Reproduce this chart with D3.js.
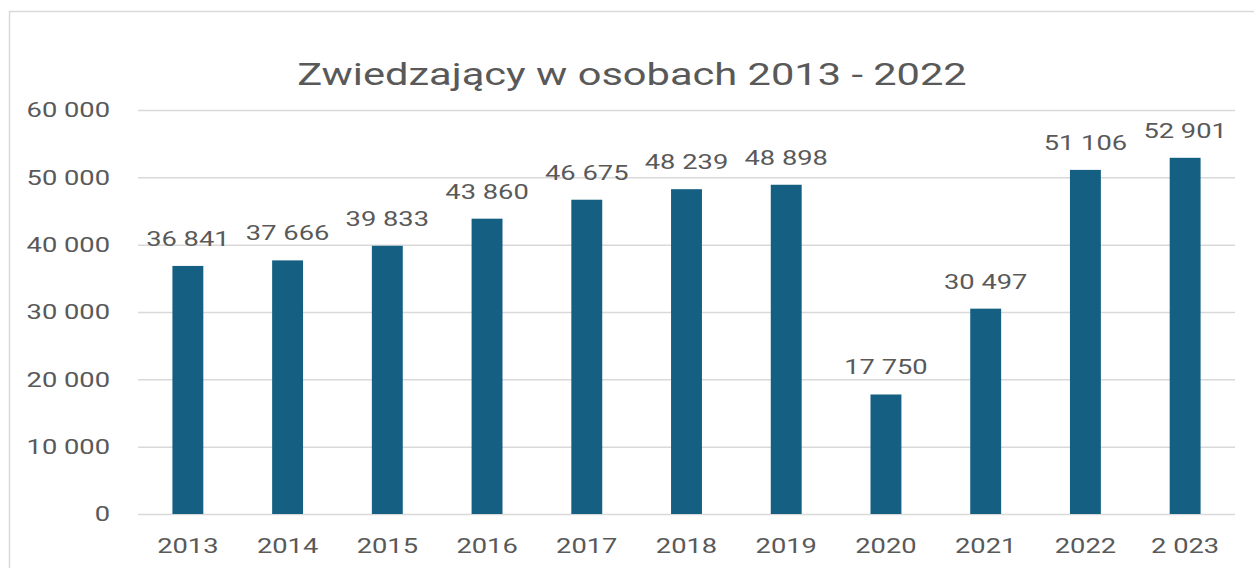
<!DOCTYPE html>
<html>
<head>
<meta charset="utf-8">
<script src="https://cdn.jsdelivr.net/npm/d3@7"></script>
<style>
  body { margin: 0; background: #fff; }
  svg { display: block; }
  text { font-family: Roboto, "Open Sans", sans-serif; fill: #595959; }
  /* the reference text is drawn noticeably wider than Roboto */
  .wide { transform-box: fill-box; transform-origin: center; transform: scaleX(1.3); }
  .wide-r { transform-box: fill-box; transform-origin: right center; transform: scaleX(1.3); }
</style>
</head>
<body>
<div id="chart"></div>
<script>
// Zwiedzający chart

var years = ["2013", "2014", "2015", "2016", "2017", "2018", "2019", "2020", "2021", "2022", "2 023"];
var visitors = [36841, 37666, 39833, 43860, 46675, 48239, 48898, 17750, 30497, 51106, 52901];
var yTicks = [0, 10000, 20000, 30000, 40000, 50000, 60000];
var title = "Zwiedzający w osobach 2013 - 2022";

(function () {
    var W = 1254, H = 568;
    var margin = { top: 110, right: 19, bottom: 54, left: 138 },
        width = W - margin.left - margin.right,
        height = H - margin.top - margin.bottom;

    var fmt = d => d3.format(",")(d).replace(/,/g, " ");

    var root = d3.select("#chart")
        .append("svg")
        .attr("width", W)
        .attr("height", H);

    // chart border
    root.append("rect")
        .attr("x", 9.5)
        .attr("y", 11.5)
        .attr("width", W + 20)
        .attr("height", H + 20)
        .attr("fill", "none")
        .attr("stroke", "#d9d9d9")
        .attr("stroke-width", 1.5);

    root.append("text")
        .attr("class", "wide")
        .attr("x", 632)
        .attr("y", 85)
        .attr("text-anchor", "middle")
        .attr("font-size", "32px")
        .text(title);

    var svg = root.append("g")
        .attr("transform", "translate(" + margin.left + "," + margin.top + ")");

    var x = d3.scaleBand()
        .domain(years)
        .range([0, width])
        .paddingInner(0.69)
        .paddingOuter(0.345);

    var y = d3.scaleLinear()
        .domain([0, 60000])
        .range([height, 0]);

    // gridlines + y labels
    var yAxis = d3.axisLeft(y)
        .tickValues(yTicks)
        .tickSize(-width)
        .tickPadding(28)
        .tickFormat(fmt);

    var gy = svg.append("g").call(yAxis);
    gy.select(".domain").remove();
    gy.selectAll(".tick line")
        .attr("stroke", "#d9d9d9")
        .attr("stroke-width", 1.5);
    gy.selectAll(".tick text")
        .attr("class", "wide-r")
        .attr("font-size", "21px")
        .attr("fill", "#595959");

    // bars
    svg.selectAll("rect.bar")
        .data(visitors)
        .enter()
        .append("rect")
        .attr("class", "bar")
        .attr("x", (d, i) => x(years[i]))
        .attr("y", d => y(d))
        .attr("width", x.bandwidth())
        .attr("height", d => height - y(d))
        .attr("fill", "#156082");

    // value labels
    svg.selectAll("text.lbl")
        .data(visitors)
        .enter()
        .append("text")
        .attr("class", "lbl wide")
        .attr("x", (d, i) => x(years[i]) + x.bandwidth() / 2)
        .attr("y", d => y(d) - 20)
        .attr("text-anchor", "middle")
        .attr("font-size", "21px")
        .text(fmt);

    // x axis labels
    var xAxis = d3.axisBottom(x).tickSize(0).tickPadding(24);
    var gx = svg.append("g")
        .attr("transform", "translate(0," + height + ")")
        .call(xAxis);
    gx.select(".domain").remove();
    gx.selectAll(".tick text")
        .attr("class", "wide")
        .attr("font-size", "21px")
        .attr("fill", "#595959");
})();
</script>
</body>
</html>
